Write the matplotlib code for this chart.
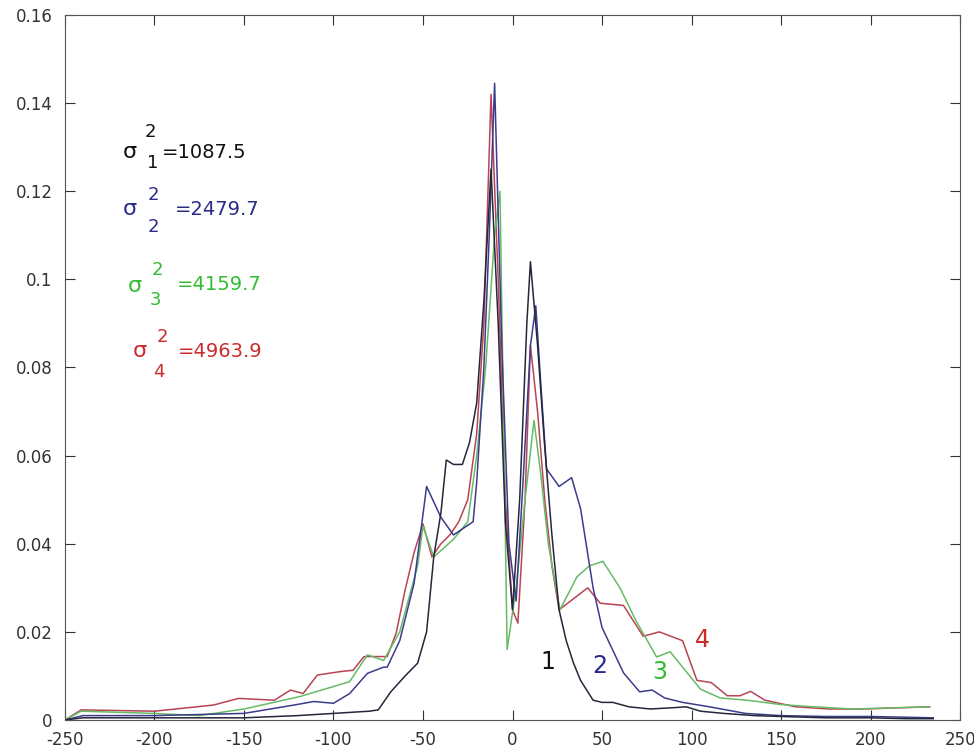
#!/usr/bin/env python3
"""Four normalised histograms with their variances (MATLAB-style figure)."""

import matplotlib
matplotlib.use("Agg")
import matplotlib.pyplot as plt
from matplotlib.ticker import FuncFormatter, MultipleLocator

plt.rcParams["font.family"] = ["DejaVu Sans"]
plt.rcParams["axes.unicode_minus"] = False

# --- series 1 (black), narrowest ---
x1 = [-250, -240, -200, -150, -120, -100, -80, -75, -68, -60, -53, -48, -44, -40,
      -37, -33, -28, -24, -20, -16, -12, -8, -4, 0, 4, 8, 10, 14, 18, 22, 26, 30,
      34, 38, 45, 50, 56, 65, 77, 90, 97, 105, 118, 135, 150, 175, 200, 220, 235]
y1 = [0, 0.0005, 0.0005, 0.0005, 0.001, 0.0015, 0.002, 0.0023, 0.0064, 0.010,
      0.0129, 0.020, 0.037, 0.047, 0.059, 0.058, 0.058, 0.063, 0.072, 0.095, 0.125,
      0.090, 0.045, 0.025, 0.050, 0.090, 0.104, 0.085, 0.062, 0.042, 0.025, 0.018,
      0.013, 0.009, 0.0045, 0.004, 0.004, 0.003, 0.0025, 0.0028, 0.003, 0.002,
      0.0015, 0.001, 0.0008, 0.0005, 0.0005, 0.0003, 0.0003]

# --- series 2 (blue) ---
x2 = [-250, -240, -200, -150, -122, -111, -100, -91, -81, -72, -70, -63, -55, -48,
      -40, -33, -22, -20, -16, -13, -10, -6, -2, 2, 6, 10, 13, 16, 19, 26, 33, 38,
      45, 50, 62, 71, 78, 85, 95, 110, 130, 150, 175, 200, 235]
y2 = [0, 0.001, 0.001, 0.0015, 0.0034, 0.0042, 0.0038, 0.006, 0.0106, 0.012, 0.012,
      0.018, 0.031, 0.053, 0.046, 0.042, 0.045, 0.054, 0.080, 0.110, 0.1445, 0.085,
      0.040, 0.027, 0.055, 0.085, 0.094, 0.075, 0.057, 0.053, 0.055, 0.048, 0.030,
      0.021, 0.0107, 0.0064, 0.0068, 0.005, 0.004, 0.003, 0.0015, 0.001, 0.0008,
      0.0008, 0.0005]

# --- series 3 (green) ---
x3 = [-250, -241, -200, -175, -150, -119, -100, -91, -81, -72, -63, -53, -50, -44,
      -33, -25, -20, -15, -10, -7, -3, 2, 7, 12, 16, 20, 26.5, 36, 43, 50.5, 60, 69,
      80.5, 88, 97, 105, 116, 131, 150, 168, 190, 233]
y3 = [0, 0.002, 0.0015, 0.001, 0.0025, 0.0053, 0.0076, 0.0087, 0.0148, 0.0135,
      0.020, 0.035, 0.044, 0.037, 0.041, 0.045, 0.060, 0.080, 0.110, 0.120, 0.016,
      0.030, 0.050, 0.068, 0.055, 0.040, 0.025, 0.0325, 0.035, 0.036, 0.030, 0.0225,
      0.0143, 0.0155, 0.011, 0.007, 0.005, 0.0045, 0.0035, 0.003, 0.0025, 0.003]

# --- series 4 (red), widest ---
x4 = [-250, -241, -200, -167, -153, -133, -124, -117, -109, -96, -89, -83, -70, -65,
      -60, -55, -50, -45, -40, -35, -30, -25, -20, -16, -12, -8, -4, 0, 3, 7, 10, 14,
      18, 22, 26, 42, 49, 62, 73, 82, 95, 103, 111, 120, 127, 133, 141, 158, 177,
      196, 233]
y4 = [0, 0.0023, 0.002, 0.0034, 0.0049, 0.0045, 0.0068, 0.006, 0.0102, 0.011,
      0.0113, 0.0144, 0.0144, 0.0197, 0.0295, 0.038, 0.0445, 0.037, 0.040, 0.042,
      0.045, 0.050, 0.065, 0.090, 0.142, 0.100, 0.050, 0.025, 0.022, 0.050, 0.085,
      0.070, 0.050, 0.035, 0.025, 0.030, 0.0265, 0.026, 0.019, 0.020, 0.018, 0.009,
      0.0085, 0.0055, 0.0055, 0.0065, 0.0045, 0.003, 0.0025, 0.0025, 0.003]

variances = ["1087.5", "2479.7", "4159.7", "4963.9"]
line_colors = ["#26263a", "#3c3c8c", "#66bb66", "#b84455"]
text_colors = ["#111111", "#2b2b8a", "#33bb33", "#cc2b2b"]
curve_labels = ["1", "2", "3", "4"]
label_pos = [(19.8, 0.0132), (48.9, 0.0123), (82.4, 0.0109), (105.9, 0.0182)]

# MATLAB-style sigma^2 annotations: sigma, superscript, subscript and value
# placed as separate pieces (x, baseline y in data units)
sig_pos = [(-218, 0.1276), (-217.5, 0.1146), (-215, 0.0971), (-212, 0.0824)]
sup_pos = [(-205.3, 0.1323), (-204, 0.1180), (-201.4, 0.1010), (-198.6, 0.0858)]
sub_pos = [(-204.2, 0.1253), (-204, 0.1108), (-202.5, 0.0942), (-200.9, 0.0778)]
val_pos = [(-195.8, 0.1276), (-188.5, 0.1146), (-187.4, 0.0976), (-186.9, 0.0824)]


def main() -> None:
    fig = plt.figure(figsize=(9.74, 7.49), dpi=100)
    ax = fig.add_axes([0.0667, 0.0387, 0.919, 0.9413])

    series = [(x1, y1), (x2, y2), (x3, y3), (x4, y4)]
    # widest first so the narrow ones sit on top
    for i in [3, 2, 1, 0]:
        xs, ys = series[i]
        ax.plot(xs, ys, color=line_colors[i], lw=1.1)

    for i in range(4):
        c = text_colors[i]
        kw = dict(color=c, va="baseline", ha="left")
        ax.text(*sig_pos[i], "σ", fontsize=16, **kw)
        ax.text(*sup_pos[i], "2", fontsize=13, **kw)
        ax.text(*sub_pos[i], str(i + 1), fontsize=13, **kw)
        ax.text(*val_pos[i], "=" + variances[i], fontsize=14, **kw)
        lx, ly = label_pos[i]
        ax.text(lx, ly, curve_labels[i], color=c, fontsize=17,
                ha="center", va="center")

    ax.set_xlim(-250, 250)
    ax.set_ylim(0, 0.16)
    ax.xaxis.set_major_locator(MultipleLocator(50))
    ax.yaxis.set_major_locator(MultipleLocator(0.02))
    ax.yaxis.set_major_formatter(FuncFormatter(lambda v, _: "%g" % round(v, 4)))
    ax.tick_params(direction="in", top=True, right=True, length=7, width=0.8,
                   labelsize=12, colors="#333333")
    ax.tick_params(axis="x", pad=8)
    ax.tick_params(axis="y", pad=9)
    for sp in ax.spines.values():
        sp.set_color("#555555")
        sp.set_linewidth(0.8)

    fig.savefig("out.png", dpi=100)


if __name__ == "__main__":
    main()
